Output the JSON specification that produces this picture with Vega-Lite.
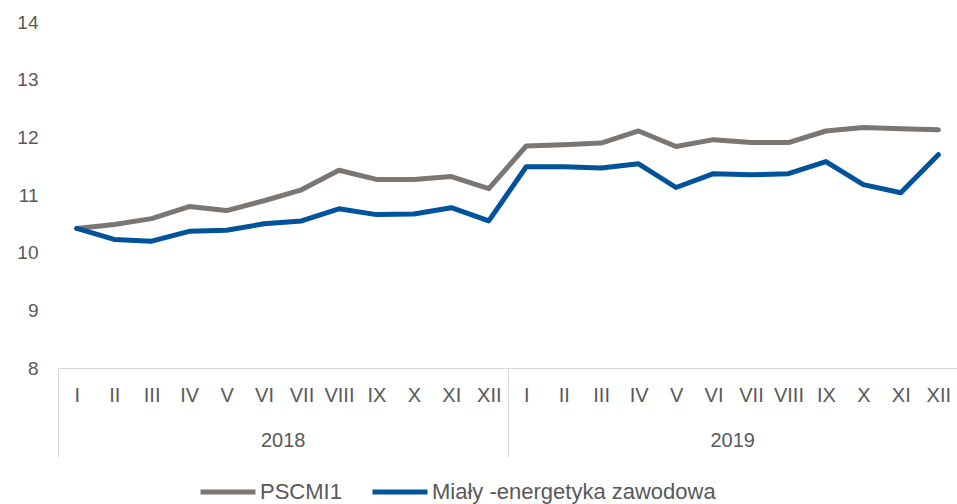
{
  "$schema": "https://vega.github.io/schema/vega-lite/v6.json",
  "width": 899,
  "height": 346,
  "autosize": {"type": "none"},
  "padding": {"left": 58, "top": 22, "right": 0, "bottom": 136},
  "background": "white",
  "config": {
    "view": {"stroke": null},
    "font": "Liberation Sans",
    "axis": {"labelFont": "Liberation Sans", "labelColor": "#595959"}
  },
  "datasets": {
    "years": [{"year": "2018"}, {"year": "2019"}],
    "series": [
      {"key": "2018 I", "series": "PSCMI1", "value": 10.42},
      {"key": "2018 II", "series": "PSCMI1", "value": 10.49},
      {"key": "2018 III", "series": "PSCMI1", "value": 10.59},
      {"key": "2018 IV", "series": "PSCMI1", "value": 10.80},
      {"key": "2018 V", "series": "PSCMI1", "value": 10.73},
      {"key": "2018 VI", "series": "PSCMI1", "value": 10.90},
      {"key": "2018 VII", "series": "PSCMI1", "value": 11.09},
      {"key": "2018 VIII", "series": "PSCMI1", "value": 11.43},
      {"key": "2018 IX", "series": "PSCMI1", "value": 11.27},
      {"key": "2018 X", "series": "PSCMI1", "value": 11.27},
      {"key": "2018 XI", "series": "PSCMI1", "value": 11.32},
      {"key": "2018 XII", "series": "PSCMI1", "value": 11.11},
      {"key": "2019 I", "series": "PSCMI1", "value": 11.85},
      {"key": "2019 II", "series": "PSCMI1", "value": 11.87},
      {"key": "2019 III", "series": "PSCMI1", "value": 11.90},
      {"key": "2019 IV", "series": "PSCMI1", "value": 12.11},
      {"key": "2019 V", "series": "PSCMI1", "value": 11.84},
      {"key": "2019 VI", "series": "PSCMI1", "value": 11.96},
      {"key": "2019 VII", "series": "PSCMI1", "value": 11.91},
      {"key": "2019 VIII", "series": "PSCMI1", "value": 11.91},
      {"key": "2019 IX", "series": "PSCMI1", "value": 12.11},
      {"key": "2019 X", "series": "PSCMI1", "value": 12.17},
      {"key": "2019 XI", "series": "PSCMI1", "value": 12.15},
      {"key": "2019 XII", "series": "PSCMI1", "value": 12.13},
      {"key": "2018 I", "series": "Miały -energetyka zawodowa", "value": 10.42},
      {"key": "2018 II", "series": "Miały -energetyka zawodowa", "value": 10.23},
      {"key": "2018 III", "series": "Miały -energetyka zawodowa", "value": 10.20},
      {"key": "2018 IV", "series": "Miały -energetyka zawodowa", "value": 10.37},
      {"key": "2018 V", "series": "Miały -energetyka zawodowa", "value": 10.39},
      {"key": "2018 VI", "series": "Miały -energetyka zawodowa", "value": 10.50},
      {"key": "2018 VII", "series": "Miały -energetyka zawodowa", "value": 10.55},
      {"key": "2018 VIII", "series": "Miały -energetyka zawodowa", "value": 10.76},
      {"key": "2018 IX", "series": "Miały -energetyka zawodowa", "value": 10.66},
      {"key": "2018 X", "series": "Miały -energetyka zawodowa", "value": 10.67},
      {"key": "2018 XI", "series": "Miały -energetyka zawodowa", "value": 10.78},
      {"key": "2018 XII", "series": "Miały -energetyka zawodowa", "value": 10.55},
      {"key": "2019 I", "series": "Miały -energetyka zawodowa", "value": 11.49},
      {"key": "2019 II", "series": "Miały -energetyka zawodowa", "value": 11.49},
      {"key": "2019 III", "series": "Miały -energetyka zawodowa", "value": 11.47},
      {"key": "2019 IV", "series": "Miały -energetyka zawodowa", "value": 11.54},
      {"key": "2019 V", "series": "Miały -energetyka zawodowa", "value": 11.13},
      {"key": "2019 VI", "series": "Miały -energetyka zawodowa", "value": 11.37},
      {"key": "2019 VII", "series": "Miały -energetyka zawodowa", "value": 11.35},
      {"key": "2019 VIII", "series": "Miały -energetyka zawodowa", "value": 11.37},
      {"key": "2019 IX", "series": "Miały -energetyka zawodowa", "value": 11.58},
      {"key": "2019 X", "series": "Miały -energetyka zawodowa", "value": 11.18},
      {"key": "2019 XI", "series": "Miały -energetyka zawodowa", "value": 11.04},
      {"key": "2019 XII", "series": "Miały -energetyka zawodowa", "value": 11.70}
    ]
  },
  "layer": [
    {
      "data": {"name": "years"},
      "mark": {"type": "point", "opacity": 0},
      "encoding": {
        "x": {
          "field": "year",
          "type": "nominal",
          "scale": {"type": "band", "paddingInner": 0, "paddingOuter": 0},
          "axis": {
            "orient": "bottom",
            "title": null,
            "domain": false,
            "tickBand": "extent",
            "tickSize": 89,
            "tickColor": "#d9d9d9",
            "tickWidth": 1,
            "labelAngle": 0,
            "labelFontSize": 20,
            "labelPadding": -27
          }
        }
      }
    },
    {
      "data": {"name": "series"},
      "mark": {"type": "line", "strokeWidth": 5, "strokeJoin": "round", "strokeCap": "round"},
      "encoding": {
        "x": {
          "field": "key",
          "type": "ordinal",
          "sort": null,
          "scale": {"type": "point", "padding": 0.5},
          "axis": {
            "orient": "bottom",
            "title": null,
            "domainColor": "#d9d9d9",
            "domainWidth": 1,
            "ticks": false,
            "labelAngle": 0,
            "labelFontSize": 20,
            "labelPadding": 17,
            "labelExpr": "split(datum.value, ' ')[1]"
          }
        },
        "y": {
          "field": "value",
          "type": "quantitative",
          "scale": {"domain": [8, 14], "zero": false, "nice": false},
          "axis": {
            "title": null,
            "domain": false,
            "ticks": false,
            "grid": false,
            "values": [8, 9, 10, 11, 12, 13, 14],
            "labelFontSize": 19,
            "labelPadding": 20
          }
        },
        "color": {
          "field": "series",
          "type": "nominal",
          "sort": ["PSCMI1", "Miały -energetyka zawodowa"],
          "scale": {"domain": ["PSCMI1", "Miały -energetyka zawodowa"], "range": ["#7a7674", "#00529b"]},
          "legend": {
            "title": null,
            "orient": "none",
            "legendX": 140,
            "legendY": 440,
            "direction": "horizontal",
            "symbolType": "stroke",
            "symbolStrokeWidth": 5,
            "symbolSize": 3025,
            "labelFontSize": 22,
            "labelLimit": 500,
            "labelColor": "#595959",
            "labelFont": "Liberation Sans",
            "columnPadding": 20,
            "labelOffset": 2
          }
        }
      }
    }
  ],
  "resolve": {"scale": {"x": "independent"}, "axis": {"x": "independent"}}
}
